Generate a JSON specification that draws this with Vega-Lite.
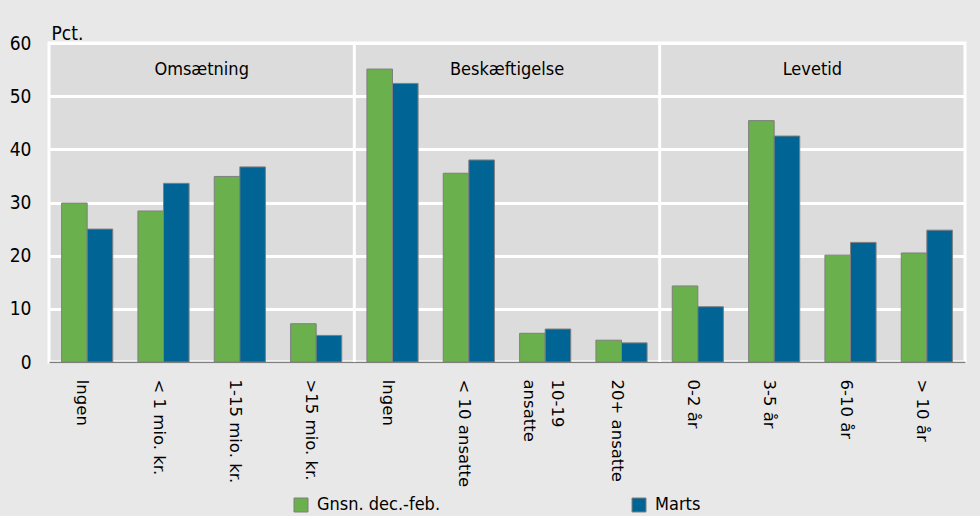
{
  "$schema": "https://vega.github.io/schema/vega-lite/v6.json",
  "width": 916,
  "height": 319,
  "autosize": {"type": "none"},
  "padding": {"left": 49, "top": 43, "right": 15, "bottom": 154},
  "background": "#e8e8e8",
  "config": {
    "view": {"fill": "#dcdcdc", "stroke": "#ffffff", "strokeWidth": 3},
    "font": "DejaVu Sans Condensed, sans-serif"
  },
  "datasets": {
    "bars": [
      {"group": "Omsætning", "cat": "O1", "label": "Ingen", "series": "Gnsn. dec.-feb.", "value": 29.9},
      {"group": "Omsætning", "cat": "O1", "label": "Ingen", "series": "Marts", "value": 25.0},
      {"group": "Omsætning", "cat": "O2", "label": "< 1 mio. kr.", "series": "Gnsn. dec.-feb.", "value": 28.4},
      {"group": "Omsætning", "cat": "O2", "label": "< 1 mio. kr.", "series": "Marts", "value": 33.6},
      {"group": "Omsætning", "cat": "O3", "label": "1-15 mio. kr.", "series": "Gnsn. dec.-feb.", "value": 34.9},
      {"group": "Omsætning", "cat": "O3", "label": "1-15 mio. kr.", "series": "Marts", "value": 36.7},
      {"group": "Omsætning", "cat": "O4", "label": ">15 mio. kr.", "series": "Gnsn. dec.-feb.", "value": 7.2},
      {"group": "Omsætning", "cat": "O4", "label": ">15 mio. kr.", "series": "Marts", "value": 5.0},
      {"group": "Beskæftigelse", "cat": "B1", "label": "Ingen", "series": "Gnsn. dec.-feb.", "value": 55.1},
      {"group": "Beskæftigelse", "cat": "B1", "label": "Ingen", "series": "Marts", "value": 52.4},
      {"group": "Beskæftigelse", "cat": "B2", "label": "< 10 ansatte", "series": "Gnsn. dec.-feb.", "value": 35.5},
      {"group": "Beskæftigelse", "cat": "B2", "label": "< 10 ansatte", "series": "Marts", "value": 38.0},
      {"group": "Beskæftigelse", "cat": "B3", "label": "10-19 ansatte", "series": "Gnsn. dec.-feb.", "value": 5.4},
      {"group": "Beskæftigelse", "cat": "B3", "label": "10-19 ansatte", "series": "Marts", "value": 6.2},
      {"group": "Beskæftigelse", "cat": "B4", "label": "20+ ansatte", "series": "Gnsn. dec.-feb.", "value": 4.1},
      {"group": "Beskæftigelse", "cat": "B4", "label": "20+ ansatte", "series": "Marts", "value": 3.6},
      {"group": "Levetid", "cat": "L1", "label": "0-2 år", "series": "Gnsn. dec.-feb.", "value": 14.3},
      {"group": "Levetid", "cat": "L1", "label": "0-2 år", "series": "Marts", "value": 10.4},
      {"group": "Levetid", "cat": "L2", "label": "3-5 år", "series": "Gnsn. dec.-feb.", "value": 45.4},
      {"group": "Levetid", "cat": "L2", "label": "3-5 år", "series": "Marts", "value": 42.5},
      {"group": "Levetid", "cat": "L3", "label": "6-10 år", "series": "Gnsn. dec.-feb.", "value": 20.1},
      {"group": "Levetid", "cat": "L3", "label": "6-10 år", "series": "Marts", "value": 22.5},
      {"group": "Levetid", "cat": "L4", "label": "> 10 år", "series": "Gnsn. dec.-feb.", "value": 20.5},
      {"group": "Levetid", "cat": "L4", "label": "> 10 år", "series": "Marts", "value": 24.8}
    ],
    "panels": [
      {"panel": "Omsætning", "mid": 2},
      {"panel": "Beskæftigelse", "mid": 6},
      {"panel": "Levetid", "mid": 10}
    ],
    "seps": [{"boundary": 4}, {"boundary": 8}]
  },
  "layer": [
    {
      "data": {"name": "seps"},
      "mark": {"type": "rule", "color": "#ffffff", "strokeWidth": 3},
      "encoding": {
        "x": {"field": "boundary", "type": "quantitative", "scale": {"domain": [0, 12]}, "axis": null}
      }
    },
    {
      "data": {"name": "bars"},
      "mark": {"type": "bar", "stroke": "#7f7f7f", "strokeWidth": 1},
      "encoding": {
        "x": {
          "field": "cat",
          "type": "nominal",
          "sort": ["O1", "O2", "O3", "O4", "B1", "B2", "B3", "B4", "L1", "L2", "L3", "L4"],
          "scale": {"paddingInner": 0.33, "paddingOuter": 0.165},
          "axis": {
            "title": null,
            "labelAngle": 90,
            "labelAlign": "left",
            "labelBaseline": "middle",
            "labelFont": "DejaVu Sans",
            "labelFontSize": 16.5,
            "labelColor": "#000000",
            "labelPadding": 17,
            "labelLineHeight": 28,
            "labelOffset": {"expr": "datum.value === 'B3' ? 12 : -5"},
            "labelOverlap": false,
            "ticks": false,
            "domainColor": "#7f7f7f",
            "domainWidth": 1.5,
            "labelExpr": "{'O1':'Ingen','O2':'< 1 mio. kr.','O3':'1-15 mio. kr.','O4':'>15 mio. kr.','B1':'Ingen','B2':'< 10 ansatte','B3':['10-19','ansatte'],'B4':'20+ ansatte','L1':'0-2 år','L2':'3-5 år','L3':'6-10 år','L4':'> 10 år'}[datum.value]"
          }
        },
        "xOffset": {"field": "series", "type": "nominal", "sort": ["Gnsn. dec.-feb.", "Marts"]},
        "y": {
          "field": "value",
          "type": "quantitative",
          "scale": {"domain": [0, 60]},
          "axis": {
            "title": "Pct.",
            "titleAngle": 0,
            "titleAlign": "left",
            "titleBaseline": "alphabetic",
            "titleX": 2,
            "titleY": -4,
            "titleFontSize": 19,
            "titleFontWeight": "normal",
            "titleColor": "#000000",
            "labelFontSize": 19,
            "labelColor": "#000000",
            "labelPadding": 18,
            "ticks": false,
            "domain": false,
            "grid": true,
            "gridColor": "#ffffff",
            "gridWidth": 3,
            "gridOpacity": 1,
            "values": [0, 10, 20, 30, 40, 50, 60]
          }
        },
        "color": {
          "field": "series",
          "type": "nominal",
          "scale": {"domain": ["Gnsn. dec.-feb.", "Marts"], "range": ["#6ab04c", "#006595"]},
          "legend": {
            "orient": "none",
            "legendX": 243,
            "legendY": 453,
            "direction": "horizontal",
            "title": null,
            "symbolType": "square",
            "symbolSize": 196,
            "symbolStrokeColor": "#7f7f7f",
            "symbolStrokeWidth": 1,
            "symbolOpacity": 1,
            "labelFontSize": 18,
            "labelColor": "#000000",
            "labelOffset": 7,
            "columnPadding": 189
          }
        }
      }
    },
    {
      "data": {"name": "panels"},
      "mark": {"type": "text", "fontSize": 18, "baseline": "middle", "align": "center", "color": "#000000"},
      "encoding": {
        "x": {"field": "mid", "type": "quantitative", "scale": {"domain": [0, 12]}, "axis": null},
        "y": {"datum": 55, "type": "quantitative"},
        "text": {"field": "panel"}
      }
    }
  ],
  "resolve": {"scale": {"x": "independent"}}
}
